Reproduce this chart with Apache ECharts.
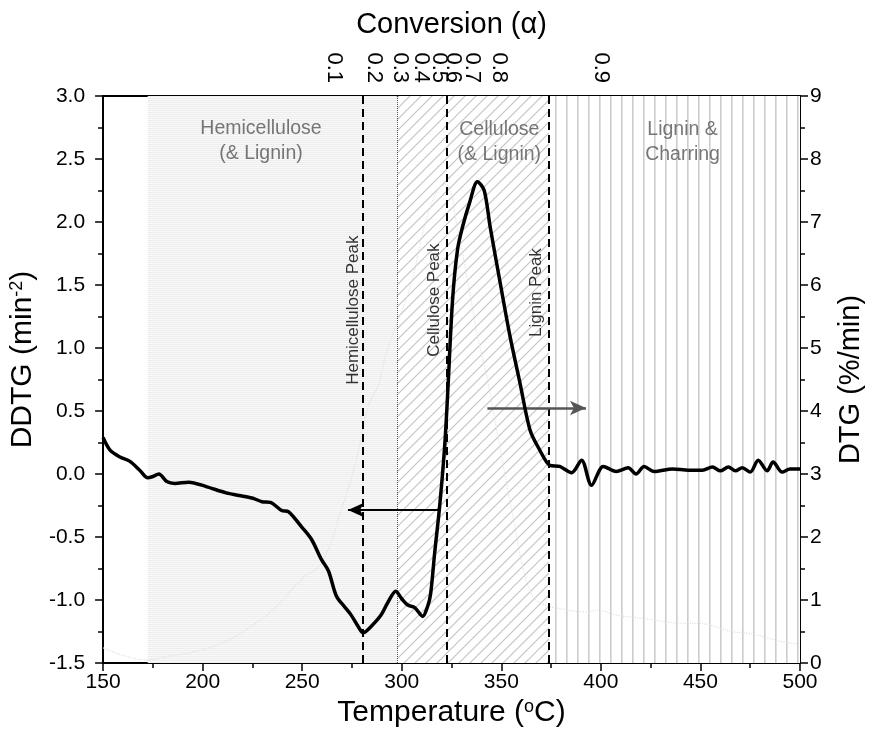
<!DOCTYPE html>
<html>
<head>
<meta charset="utf-8">
<script src="https://cdn.jsdelivr.net/npm/echarts@6/dist/echarts.min.js"></script>
<style>
html, body { margin: 0; padding: 0; background: #fff; }
#chart { width: 873px; height: 740px; }
</style>
</head>
<body>
<div id="chart"></div>
<script>
// DDTG curve (left axis)
var ddtgTemp = [150, 153.5, 158.5, 163.5, 168.4, 172.4, 175, 178, 182, 186, 193, 201.8, 211.8, 218.3, 224.8, 229.8, 234, 239.7, 243.2, 249.7, 254.7, 259.7, 263.2, 267.2, 271.6, 274.6, 278.1, 280.6, 284.6, 289.6, 293, 297, 300, 303, 306.5, 310.5, 313, 314.5, 316.5, 319, 321.5, 323, 325.5, 328, 330.5, 334, 338, 341.4, 344.4, 349.4, 354.4, 359.4, 364.4, 369.3, 374.3, 379.3, 385.3, 390.3, 395.3, 401.2, 407.7, 413.7, 417.7, 421.7, 426.7, 436, 444, 451, 456, 460, 464, 467.6, 471, 475, 479, 483.5, 486.5, 491, 495, 500];
var ddtgVal = [0.29, 0.19, 0.135, 0.10, 0.03, -0.03, -0.02, 0.0, -0.06, -0.075, -0.065, -0.10, -0.15, -0.17, -0.19, -0.22, -0.225, -0.29, -0.30, -0.42, -0.52, -0.68, -0.77, -0.97, -1.06, -1.12, -1.21, -1.26, -1.21, -1.12, -1.02, -0.93, -0.99, -1.04, -1.06, -1.13, -1.05, -0.95, -0.63, -0.26, 0.21, 0.62, 1.38, 1.78, 1.96, 2.15, 2.32, 2.25, 1.96, 1.52, 1.09, 0.72, 0.35, 0.19, 0.07, 0.06, 0.01, 0.11, -0.09, 0.06, 0.02, 0.05, 0.0, 0.06, 0.02, 0.04, 0.03, 0.03, 0.055, 0.025, 0.055, 0.025, 0.05, 0.015, 0.11, 0.025, 0.095, 0.015, 0.04, 0.04];

// DTG curve (right axis), faint in the picture
var dtgTemp = [150, 160, 172, 185, 193.4, 209.8, 226.8, 236.7, 249.7, 259.7, 269.6, 277, 283, 288, 293, 304.5, 312, 318, 322, 328, 334, 338, 343, 350, 356, 361, 366, 372, 378, 393, 398, 408, 423, 442, 448, 467.5, 472.5, 492.5, 500];
var dtgVal = [0.24, 0.12, 0.05, 0.12, 0.16, 0.32, 0.63, 0.89, 1.33, 1.59, 2.43, 3.2, 4.06, 4.4, 5.0, 6.0, 7.0, 7.5, 7.6, 6.9, 5.9, 5.2, 4.5, 3.3, 2.3, 1.5, 1.05, 0.92, 0.87, 0.81, 0.84, 0.76, 0.7, 0.63, 0.63, 0.49, 0.48, 0.33, 0.3];

// conversion axis (top)
var convTemp = [266.2, 286.1, 299.1, 309.5, 318.5, 326.0, 335.4, 348.9, 400.2];
var convLabels = ['0.1', '0.2', '0.3', '0.4', '0.5', '0.6', '0.7', '0.8', '0.9'];

// regions and peaks
var regionBounds = [172.4, 297.5, 374, 500];
var regionNames = ['Hemicellulose\n(& Lignin)', 'Cellulose\n(& Lignin)', 'Lignin &\nCharring'];
var regionLabelPos = [[229.3, 2.64], [349, 2.63], [441, 2.63]];
var peakTemp = [280.6, 322.5, 374];
var peakNames = ['Hemicellulose Peak', 'Cellulose Peak', 'Lignin Peak'];
var peakLabelPos = [[275.6, 1.30], [316.5, 1.38], [367.8, 1.44]];
var arrowLeft = [[319.5, -0.286], [273, -0.286]];
var arrowRight = [[343, 0.524], [392.5, 0.524]];

var FONT = 'Liberation Sans, Arial, sans-serif';

function pattern(w, h, draw) {
	var c = document.createElement('canvas');
	c.width = w;
	c.height = h;
	var ctx = c.getContext('2d');
	draw(ctx, w, h);
	return { image: c, repeat: 'repeat' };
}
var hemiFill = pattern(4, 2, function (ctx, w, h) {
	ctx.fillStyle = '#f9f9f9';
	ctx.fillRect(0, 0, w, h);
	ctx.fillStyle = '#ededed';
	ctx.fillRect(0, 0, w, 1);
});
var celluFill = pattern(11, 11, function (ctx, w, h) {
	ctx.fillStyle = '#ffffff';
	ctx.fillRect(0, 0, w, h);
	ctx.strokeStyle = '#c4c4c4';
	ctx.lineWidth = 1.2;
	ctx.beginPath();
	ctx.moveTo(-1, h + 1); ctx.lineTo(w + 1, -1);
	ctx.moveTo(-2, 2); ctx.lineTo(2, -2);
	ctx.moveTo(w - 2, h + 2); ctx.lineTo(w + 2, h - 2);
	ctx.stroke();
});
var ligninFill = pattern(11, 4, function (ctx, w, h) {
	ctx.fillStyle = '#ffffff';
	ctx.fillRect(0, 0, w, h);
	ctx.fillStyle = '#cccccc';
	ctx.fillRect(5, 0, 1.6, h);
});
var fills = [hemiFill, celluFill, ligninFill];

function pairs(xs, ys) {
	var out = [];
	for (var i = 0; i < xs.length; i++) out.push([xs[i], ys[i]]);
	return out;
}

var areaData = [];
for (var i = 0; i < 3; i++) {
	areaData.push([{ xAxis: regionBounds[i], itemStyle: { color: fills[i] } }, { xAxis: regionBounds[i + 1] }]);
}
var vLines = [];
for (var j = 0; j < peakTemp.length; j++) {
	vLines.push({ xAxis: peakTemp[j], lineStyle: { type: [8, 5], color: '#000', width: 2 } });
}
vLines.push({ xAxis: regionBounds[1], lineStyle: { type: 'dotted', color: '#555', width: 1 } });

var axisCommon = {
	axisLine: { show: true, onZero: false, lineStyle: { color: '#000', width: 2 } },
	axisTick: { show: true, inside: false, length: 8, lineStyle: { color: '#000', width: 1.5 } },
	minorTick: { show: true, splitNumber: 2, length: 5, lineStyle: { color: '#000', width: 1.5 } },
	splitLine: { show: false }
};

var myChart = echarts.init(document.getElementById('chart'));
var option = {
	backgroundColor: '#fff',
	animation: false,
	textStyle: { fontFamily: FONT },
	grid: { left: 103, right: 68, top: 96, bottom: 77 },
	xAxis: [{
		type: 'value', position: 'bottom', min: 150, max: 500, interval: 50,
		name: '{a|Temperature (}{s|o}{a|C)}', nameLocation: 'middle', nameGap: 25,
		nameTextStyle: { rich: {
			a: { fontSize: 30, color: '#000', fontFamily: FONT },
			s: { fontSize: 18, color: '#000', fontFamily: FONT, verticalAlign: 'top' }
		} },
		axisLine: axisCommon.axisLine, axisTick: axisCommon.axisTick, minorTick: axisCommon.minorTick,
		axisLabel: { color: '#000', fontSize: 21, margin: 9, fontFamily: FONT },
		splitLine: { show: false }
	}, {
		type: 'value', position: 'top', min: 150, max: 500,
		name: 'Conversion (α)', nameLocation: 'middle', nameGap: 57,
		nameTextStyle: { fontSize: 29, color: '#000', fontFamily: FONT },
		axisLine: axisCommon.axisLine,
		axisTick: { show: true, inside: true, length: 8, customValues: convTemp, lineStyle: { color: '#000', width: 1.5 } },
		axisLabel: {
			color: '#000', fontSize: 22, rotate: 90, margin: 13, fontFamily: FONT,
			customValues: convTemp,
			formatter: function (v) {
				for (var k = 0; k < convTemp.length; k++) {
					if (Math.abs(v - convTemp[k]) < 0.01) return convLabels[k];
				}
				return '';
			}
		},
		splitLine: { show: false }
	}],
	yAxis: [{
		type: 'value', position: 'left', min: -1.5, max: 3, interval: 0.5,
		name: '{a|DDTG (min}{s|-2}{a|)}', nameLocation: 'middle', nameGap: 58, nameRotate: 90,
		nameTextStyle: { padding: [0, 0, 0, 40], rich: {
			a: { fontSize: 30, color: '#000', fontFamily: FONT },
			s: { fontSize: 18, color: '#000', fontFamily: FONT, verticalAlign: 'top' }
		} },
		axisLine: axisCommon.axisLine, axisTick: axisCommon.axisTick, minorTick: axisCommon.minorTick,
		axisLabel: { color: '#000', fontSize: 21, margin: 18, fontFamily: FONT, formatter: function (v) { return v.toFixed(1); } },
		splitLine: { show: false }
	}, {
		type: 'value', position: 'right', min: 0, max: 9, interval: 1,
		name: 'DTG (%/min)', nameLocation: 'middle', nameGap: 36, nameRotate: 90,
		nameTextStyle: { fontSize: 29, color: '#000', fontFamily: FONT },
		axisLine: axisCommon.axisLine, axisTick: axisCommon.axisTick, minorTick: axisCommon.minorTick,
		axisLabel: { color: '#000', fontSize: 21, margin: 10, fontFamily: FONT },
		splitLine: { show: false }
	}],
	series: [{
		name: 'DTG', type: 'line', xAxisIndex: 0, yAxisIndex: 1,
		data: pairs(dtgTemp, dtgVal), smooth: 0.4, showSymbol: false, z: 2,
		lineStyle: { color: '#e2e2e2', width: 1.2, type: 'dotted' },
		markArea: { silent: true, data: areaData },
		markLine: { silent: true, symbol: 'none', label: { show: false }, data: vLines }
	}, {
		name: 'DDTG', type: 'line', xAxisIndex: 0, yAxisIndex: 0,
		data: pairs(ddtgTemp, ddtgVal), smooth: 0.3, showSymbol: false, z: 5,
		lineStyle: { color: '#000', width: 3.5 },
		markLine: {
			silent: true, symbol: ['none', 'arrow'], symbolSize: [11, 16],
			label: { show: false },
			lineStyle: { type: 'solid' },
			data: [
				[{ coord: arrowLeft[0], lineStyle: { color: '#000', width: 2, type: 'solid' } }, { coord: arrowLeft[1] }],
				[{ coord: arrowRight[0], lineStyle: { color: '#555', width: 2.5, type: 'solid' } }, { coord: arrowRight[1] }]
			]
		}
	}, {
		name: 'peaks', type: 'scatter', xAxisIndex: 0, yAxisIndex: 0,
		data: peakLabelPos, symbolSize: 1, z: 6,
		itemStyle: { color: 'rgba(0,0,0,0)' },
		label: {
			show: true, position: 'inside', rotate: 90, color: '#000', fontSize: 17, fontFamily: FONT,
			formatter: function (p) { return peakNames[p.dataIndex]; }
		}
	}, {
		name: 'regions', type: 'scatter', xAxisIndex: 0, yAxisIndex: 0,
		data: regionLabelPos, symbolSize: 1, z: 6,
		itemStyle: { color: 'rgba(0,0,0,0)' },
		label: {
			show: true, position: 'inside', color: '#555', fontSize: 19.5, lineHeight: 25, align: 'center', fontFamily: FONT,
			formatter: function (p) { return regionNames[p.dataIndex]; }
		}
	}]
};
myChart.setOption(option);
</script>
</body>
</html>
